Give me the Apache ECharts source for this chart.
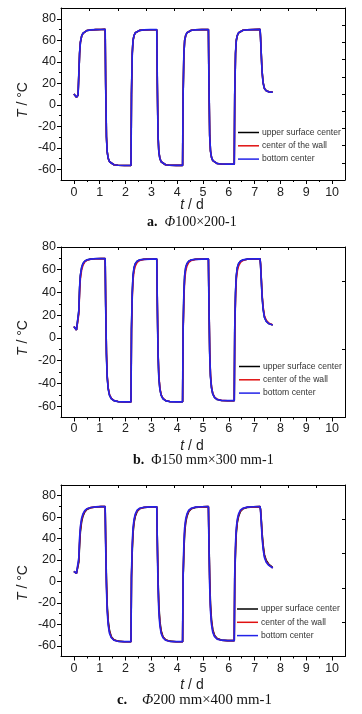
<!DOCTYPE html>
<html><head><meta charset="utf-8">
<script src="https://cdn.jsdelivr.net/npm/echarts@6/dist/echarts.min.js"></script>
<style>html,body{margin:0;padding:0;background:#fff}#c{width:362px;height:714px}</style>
</head><body><div id="c"></div>
<script>
// time (days)
const days=[0,0.05,0.1,0.13,0.16,0.19,0.22,0.25,0.3,0.35,0.42,0.5,0.65,0.85,1.05,1.21,
1.23,1.26,1.29,1.33,1.38,1.45,1.55,1.71,1.96,2.21,
2.23,2.26,2.29,2.33,2.38,2.45,2.55,2.71,2.96,3.21,
3.23,3.26,3.29,3.33,3.38,3.45,3.55,3.71,3.96,4.21,
4.23,4.26,4.29,4.33,4.38,4.45,4.55,4.71,4.96,5.21,
5.23,5.26,5.29,5.33,5.38,5.45,5.55,5.71,5.96,6.21,
6.23,6.26,6.29,6.33,6.38,6.45,6.55,6.71,6.96,7.21,
7.23,7.26,7.29,7.33,7.38,7.45,7.55,7.65,7.7];

// panel a: Φ100×200-1
const aUpper=[10,8.5,7,6.5,8.9,27.5,47.5,57.8,63.9,66.4,68,69,69.6,69.9,70,70.2,
20.5,-29.5,-43.8,-49.9,-53,-54.8,-55.8,-56.3,-56.5,-56.5,
9.5,47.5,59.8,64.4,67,68.5,69.2,69.6,69.8,69.8,
20.5,-29.5,-43.8,-49.9,-53,-54.8,-55.8,-56.3,-56.4,-56.4,
9.5,47.5,59.8,64.4,67,68.5,69.3,69.7,69.9,70,
21.5,-28.5,-42.8,-48.9,-52,-53.7,-54.7,-55.1,-55.3,-55.3,
9.5,47.5,59.8,64.4,67,68.5,69.3,69.7,69.9,70.1,
62.5,45.5,30.5,20.5,15.2,13.1,12,11.8,11.8];
const aWall=[10,8.5,7,6.5,8.9,27.7,47.7,57.9,63.9,66.4,68,69,69.6,69.9,70,70.2,
20.3,-29.7,-43.9,-50,-53,-54.8,-55.8,-56.3,-56.5,-56.5,
9.7,47.7,59.9,64.4,67,68.5,69.2,69.6,69.8,69.8,
20.3,-29.7,-43.9,-50,-53,-54.8,-55.8,-56.3,-56.4,-56.4,
9.7,47.7,59.9,64.4,67,68.5,69.3,69.7,69.9,70,
21.3,-28.7,-42.9,-49,-52,-53.7,-54.7,-55.1,-55.3,-55.3,
9.7,47.7,59.9,64.4,67,68.5,69.3,69.7,69.9,70.1,
62.3,45.3,30.3,20.3,15.1,13,12,11.8,11.8];
const aBottom=[10,8.5,7,6.5,9,28,48,58,64,66.5,68,69,69.6,69.9,70,70.2,
20,-30,-44,-50,-53,-54.8,-55.8,-56.3,-56.5,-56.5,
10,48,60,64.5,67,68.5,69.2,69.6,69.8,69.8,
20,-30,-44,-50,-53,-54.8,-55.8,-56.3,-56.4,-56.4,
10,48,60,64.5,67,68.5,69.3,69.7,69.9,70,
21,-29,-43,-49,-52,-53.7,-54.7,-55.1,-55.3,-55.3,
10,48,60,64.5,67,68.5,69.3,69.7,69.9,70.1,
62,45,30,20,15,13,12,11.8,11.8];

// panel b: Φ150 mm×300 mm-1
const bUpper=[10,8.5,7,6.5,8.4,23.5,43.5,54.5,61.8,65.3,67.4,68.6,69.4,69.7,69.8,69.8,
31,-14,-34.5,-44.8,-50.3,-53.4,-55.2,-56,-56.3,-56.3,
7.5,39.5,54.5,61.7,65.3,67.4,68.6,69.2,69.4,69.5,
31,-14,-34.5,-44.8,-50.3,-53.4,-55.2,-56,-56.2,-56.2,
7.5,39.5,54.5,61.7,65.3,67.4,68.6,69.2,69.4,69.5,
32,-13,-33.5,-43.8,-49.3,-52.4,-54.2,-55,-55.2,-55.2,
7.5,39.5,54.5,61.7,65.3,67.4,68.6,69.3,69.5,69.6,
64.5,50.5,36.5,25.5,18.3,14.7,12.6,11.8,11.5];
const bWall=[10,8.5,7,6.5,8,21,40,52,60,64,66.8,68.3,69.2,69.6,69.8,69.8,
33,-12,-33,-44,-50,-53.2,-55,-55.9,-56.3,-56.3,
5,35,51,59,63.5,66.5,68.2,69.1,69.4,69.5,
33,-12,-33,-44,-50,-53.2,-55,-55.9,-56.2,-56.2,
5,35,51,59,63.5,66.5,68.2,69.1,69.4,69.5,
34,-11,-32,-43,-49,-52.2,-54,-54.9,-55.2,-55.2,
5,35,51,59,63.5,66.5,68.2,69.2,69.5,69.6,
65,52,38,27,19.5,15.5,13,12,11.5];
const bBottom=[10,8.5,7,6.5,8.5,24,44,55,62,65.5,67.5,68.7,69.4,69.7,69.8,69.8,
30,-15,-35,-45,-50.5,-53.5,-55.2,-56,-56.3,-56.3,
8,40,55,62,65.5,67.5,68.7,69.2,69.4,69.5,
30,-15,-35,-45,-50.5,-53.5,-55.2,-56,-56.2,-56.2,
8,40,55,62,65.5,67.5,68.7,69.2,69.4,69.5,
31,-14,-34,-44,-49.5,-52.5,-54.2,-55,-55.2,-55.2,
8,40,55,62,65.5,67.5,68.7,69.3,69.5,69.6,
64,50,36,25,18,14.5,12.5,11.8,11.5];

// panel c: Φ200 mm×400 mm-1
const cUpper=[9.5,8.5,7.5,7,8,18,34,46,56,61,64.8,67.2,68.7,69.5,69.8,69.8,
40,2,-22,-37,-46,-51.5,-54.3,-55.7,-56.2,-56.2,
3,28,45,55,61,65.3,67.8,69,69.5,69.7,
40,2,-22,-37,-46,-51.5,-54.3,-55.7,-56.2,-56.2,
3,28,45,55,61,65.3,67.8,69.1,69.6,69.8,
41,3,-21,-36,-45,-50.5,-53.3,-54.7,-55.2,-55.2,
3,28,45,55,61,65.3,67.8,69.1,69.6,69.8,
67,57,45,34,25,19.5,16,14,13];
const cWall=[9.5,8.5,7.5,7,8.2,20,37,48.5,57.5,62,65.4,67.5,68.9,69.6,69.8,69.8,
37.5,-1.5,-25,-39,-47.2,-52,-54.5,-55.8,-56.2,-56.2,
4.5,31.5,47.5,56.5,62,65.9,68,69.1,69.6,69.7,
37.5,-1.5,-25,-39,-47.2,-52,-54.5,-55.8,-56.2,-56.2,
4.5,31.5,47.5,56.5,62,65.9,68,69.2,69.6,69.8,
38.5,-0.5,-24,-38,-46.2,-51,-53.5,-54.8,-55.2,-55.2,
4.5,31.5,47.5,56.5,62,65.9,68,69.2,69.6,69.8,
66.5,55.5,43,32,23.7,18.7,15.5,13.7,12.7];
const cBottom=[9.5,8.5,7.5,7,8.5,22,40,51,59,63,66,67.8,69,69.6,69.8,69.8,
35,-5,-28,-41,-48.5,-52.5,-54.8,-55.8,-56.2,-56.2,
6,35,50,58,63,66.5,68.3,69.2,69.6,69.7,
35,-5,-28,-41,-48.5,-52.5,-54.8,-55.8,-56.2,-56.2,
6,35,50,58,63,66.5,68.3,69.3,69.7,69.8,
36,-4,-27,-40,-47.5,-51.5,-53.8,-54.8,-55.2,-55.2,
6,35,50,58,63,66.5,68.3,69.3,69.7,69.8,
66,54,41,30,22.5,18,15,13.5,12.5];

const seriesNames=['upper surface center','center of the wall','bottom center'];
const yMajorTicks=[-60,-40,-20,0,20,40,60,80];
const yMinorTicks=[-50,-30,-10,10,30,50,70];
const xMajorTicks=[0,1,2,3,4,5,6,7,8,9,10];
const xMinorTicks=[0.5,1.5,2.5,3.5,4.5,5.5,6.5,7.5,8.5,9.5];
const captionLabels=['{b|a.}  {i|Φ}100×200-1','{b|b.}  Φ150 mm×300 mm-1','{b|c.}    {i|Φ}200 mm×400 mm-1'];
const yTitle='{i|T} / °C';
const xTitle='{i|t} / d';

const panelData=[[aUpper,aWall,aBottom],[bUpper,bWall,bBottom],[cUpper,cWall,cBottom]];
const colors=['#000000','#e01010','#2222e8'];
const layout=[
 {top:8,height:172,yMax:90,rMax:10,rTicks:[1,2,3,4,5,6,7,8,9],legendTop:126.5,legendLeft:238,yt:[22.7,100],xt:[192,205],cap:[147,222],capSize:14,lblMargin:6},
 {top:247,height:170.5,yMax:80,rMax:5,rTicks:[2,4],legendTop:360.5,legendLeft:239,yt:[23.3,338],xt:[192,446],cap:[133,460],capSize:14,lblMargin:5},
 {top:485,height:171.5,yMax:90,rMax:5,rTicks:[1,2,3,4],legendTop:603,legendLeft:237,yt:[23,583],xt:[192,685],cap:[117,700],capSize:14.8,lblMargin:6}
];
const font='Liberation Sans, Arial, sans-serif';
const grid=[],xAxis=[],yAxis=[],series=[],legend=[],graphic=[];
const line={show:true,onZero:false,lineStyle:{color:'#000',width:1}};
const noLine={show:false,onZero:false};
layout.forEach((L,g)=>{
  grid.push({left:61,width:284,top:L.top,height:L.height});
  xAxis.push({gridIndex:g,type:'value',position:'bottom',min:-0.5,max:10.5,axisLine:line,splitLine:{show:false},
    axisTick:{show:true,length:4,customValues:xMajorTicks,lineStyle:{color:'#000'}},
    axisLabel:{customValues:xMajorTicks,color:'#222',fontSize:12.5,fontFamily:font,margin:L.lblMargin}});
  xAxis.push({gridIndex:g,type:'value',position:'bottom',min:-0.5,max:10.5,axisLine:noLine,splitLine:{show:false},
    axisTick:{show:true,length:2,customValues:xMinorTicks,lineStyle:{color:'#000'}},axisLabel:{show:false}});
  xAxis.push({gridIndex:g,type:'value',position:'top',min:0,max:10,axisLine:line,splitLine:{show:false},
    axisTick:{show:true,inside:true,length:3,customValues:[1,2,3,4,5,6,7,8,9],lineStyle:{color:'#000'}},axisLabel:{show:false}});
  yAxis.push({gridIndex:g,type:'value',position:'left',min:-70,max:L.yMax,axisLine:line,splitLine:{show:false},
    axisTick:{show:true,length:4,customValues:yMajorTicks,lineStyle:{color:'#000'}},
    axisLabel:{customValues:yMajorTicks,color:'#222',fontSize:12.5,fontFamily:font,margin:5}});
  yAxis.push({gridIndex:g,type:'value',position:'left',min:-70,max:L.yMax,axisLine:noLine,splitLine:{show:false},
    axisTick:{show:true,length:2,customValues:yMinorTicks,lineStyle:{color:'#000'}},axisLabel:{show:false}});
  yAxis.push({gridIndex:g,type:'value',position:'right',min:0,max:L.rMax,axisLine:line,splitLine:{show:false},
    axisTick:{show:true,inside:true,length:3,customValues:L.rTicks,lineStyle:{color:'#000'}},axisLabel:{show:false}});
  panelData[g].forEach((vals,s)=>{
    series.push({type:'line',name:seriesNames[s],xAxisIndex:g*3,yAxisIndex:g*3,
      data:days.map((d,i)=>[d,vals[i]]),showSymbol:false,symbol:'none',
      lineStyle:{color:colors[s],width:s===2?1.7:1.6},itemStyle:{color:colors[s]},z:2+s});
  });
  legend.push({orient:'vertical',left:L.legendLeft,top:L.legendTop,data:seriesNames,icon:'rect',
    itemWidth:21,itemHeight:1.5,itemGap:1.3,padding:0,
    textStyle:{fontSize:8.6,lineHeight:12,color:'#333',fontFamily:font,padding:[0,0,0,-2]}});
  graphic.push({type:'text',x:L.yt[0],y:L.yt[1],rotation:Math.PI/2,
    style:{text:yTitle,fontSize:14,fontFamily:font,fill:'#222',align:'center',verticalAlign:'middle',textAlign:'center',textVerticalAlign:'middle',
      rich:{i:{fontStyle:'italic',fontSize:14,fontFamily:font,fill:'#222'}}}});
  graphic.push({type:'text',x:L.xt[0],y:L.xt[1],
    style:{text:xTitle,fontSize:14,fontFamily:font,fill:'#222',align:'center',verticalAlign:'middle',textAlign:'center',textVerticalAlign:'middle',
      rich:{i:{fontStyle:'italic',fontSize:14,fontFamily:font,fill:'#222'}}}});
  graphic.push({type:'text',x:L.cap[0],y:L.cap[1],
    style:{text:captionLabels[g],fontSize:L.capSize,fontFamily:'Liberation Serif, serif',fill:'#111',align:'left',verticalAlign:'middle',textAlign:'left',textVerticalAlign:'middle',
      rich:{b:{fontWeight:'bold',fontSize:L.capSize,fontFamily:'Liberation Serif, serif',fill:'#111'},i:{fontStyle:'italic',fontSize:L.capSize,fontFamily:'Liberation Serif, serif',fill:'#111'}}}});
});
const chart=echarts.init(document.getElementById('c'),null,{renderer:'canvas'});
chart.setOption({animation:false,backgroundColor:'#fff',grid,xAxis,yAxis,series,legend,graphic});
</script></body></html>
